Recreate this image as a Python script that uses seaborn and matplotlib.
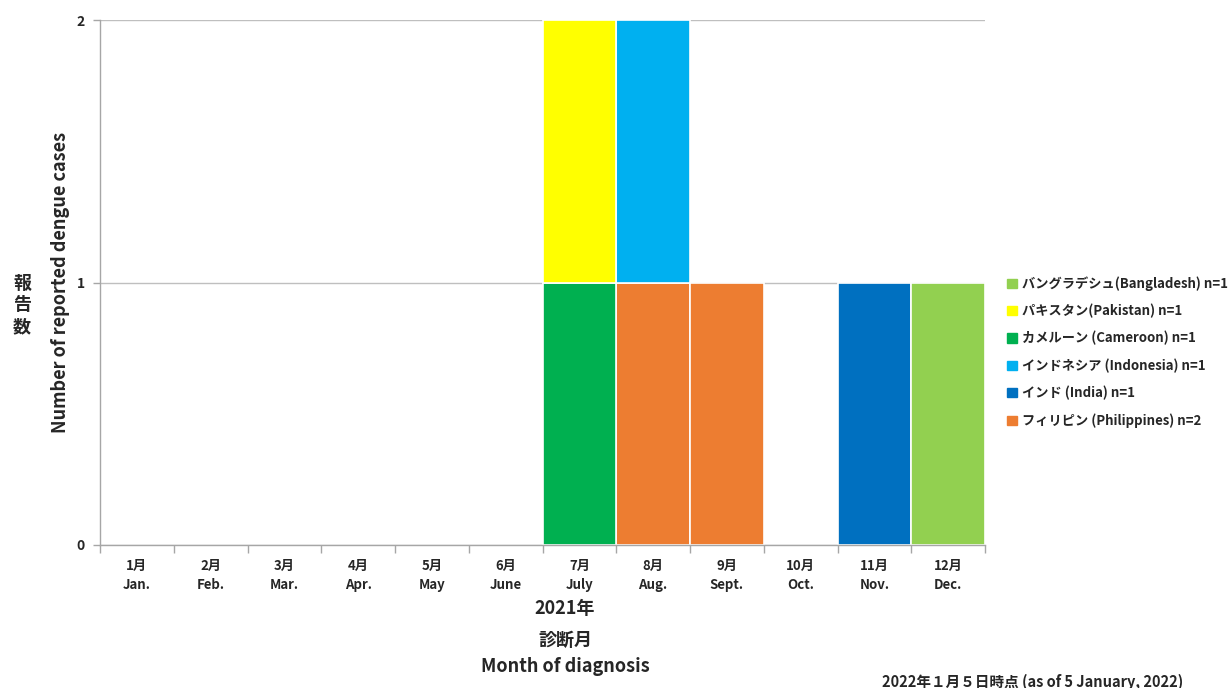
import seaborn as sns
import matplotlib.pyplot as plt
from matplotlib.patches import Rectangle
import pandas as pd

# monthly reported dengue cases by country of infection, 2021
months = list(range(1, 13))
month_jp = ["1月", "2月", "3月", "4月", "5月", "6月", "7月", "8月", "9月", "10月", "11月", "12月"]
month_en = ["Jan.", "Feb.", "Mar.", "Apr.", "May", "June", "July", "Aug.", "Sept.", "Oct.", "Nov.", "Dec."]

countries = ["バングラデシュ(Bangladesh) n=1", "パキスタン(Pakistan) n=1", "カメルーン (Cameroon) n=1",
             "インドネシア (Indonesia) n=1", "インド (India) n=1", "フィリピン (Philippines) n=2"]
colours = ["#92D050", "#FFFF00", "#00B050", "#00B0F0", "#0070C0", "#ED7D31"]

case_month = [12, 7, 7, 8, 11, 8, 9]
case_country = [countries[0], countries[1], countries[2], countries[3], countries[4], countries[5], countries[5]]
case_count = [1, 1, 1, 1, 1, 1, 1]

df = pd.DataFrame({"month": case_month, "country": case_country, "count": case_count})

sns.set_style("white")
fonts = ['Noto Sans CJK JP', 'DejaVu Sans']
plt.rcParams['font.family'] = fonts

fig = plt.figure(figsize=(12.28, 6.88), dpi=100)
ax = fig.add_axes([100 / 1228, 143 / 688, 885 / 1228, 525 / 688])

sns.histplot(data=df, x="month", weights="count", hue="country", hue_order=countries,
             palette=dict(zip(countries, colours)), multiple="stack", discrete=True, shrink=1,
             edgecolor="white", linewidth=1.2, alpha=1, legend=False, ax=ax)

# drop empty bars so they don't draw white lines on the grid
for p in list(ax.patches):
    if p.get_height() == 0:
        p.remove()

ax.set_xlim(0.5, 12.5)
ax.set_ylim(0, 2)
ax.set_yticks([0, 1, 2])
ax.set_yticklabels(["0", "1", "2"], fontweight="bold", fontsize=10)
ax.yaxis.grid(True, color="#BFBFBF", linewidth=1)
ax.set_axisbelow(True)

ax.set_xticks([m - 0.5 for m in months] + [12.5])
ax.set_xticklabels([])
ax.set_xticks(months, minor=True)
ax.set_xticklabels([j + "\n" + e for j, e in zip(month_jp, month_en)], minor=True,
                   fontweight="bold", fontsize=9.5, linespacing=1.5)
ax.tick_params(axis="x", which="major", length=6, color="#A6A6A6", width=1, direction="out", bottom=True)
ax.tick_params(axis="x", which="minor", length=0, pad=10)
ax.tick_params(axis="y", length=5, color="#A6A6A6", width=1, direction="out", left=True, pad=6)

for s in ["top", "right"]:
    ax.spines[s].set_visible(False)
for s in ["left", "bottom"]:
    ax.spines[s].set_color("#A6A6A6")
    ax.spines[s].set_linewidth(1)

ax.set_xlabel("")
ax.set_ylabel("Number of reported dengue cases", fontweight="bold", fontsize=13)
ax.yaxis.set_label_coords(-30 / 885, 0.5)

for ch, ypix in zip("報告数", [283, 305, 327]):
    fig.text(22 / 1228, 1 - ypix / 688, ch, ha="center", va="center", fontsize=13, fontweight="bold")

fig.text(565 / 1228, 1 - 608 / 688, "2021年", ha="center", va="center", fontsize=13, fontweight="bold")
fig.text(565 / 1228, 1 - 640 / 688, "診断月", ha="center", va="center", fontsize=13, fontweight="bold")
fig.text(565 / 1228, 1 - 667 / 688, "Month of diagnosis", ha="center", va="center", fontsize=13, fontweight="bold")
fig.text(1183 / 1228, 1 - 682 / 688, "2022年１月５日時点 (as of 5 January, 2022)", ha="right", va="center",
         fontsize=10.5, fontweight="bold")

handles = [Rectangle((0, 0), 1, 1, color=c) for c in colours]
ax.legend(handles, countries, loc="upper left", bbox_to_anchor=(1002 / 1228, 1 - 271 / 688),
          bbox_transform=fig.transFigure, frameon=False, handlelength=0.7, handleheight=0.7,
          handletextpad=0.4, labelspacing=0.98, borderaxespad=0,
          prop={"size": 9.5, "weight": "bold", "family": fonts})

fig.savefig("out.png", dpi=100)
